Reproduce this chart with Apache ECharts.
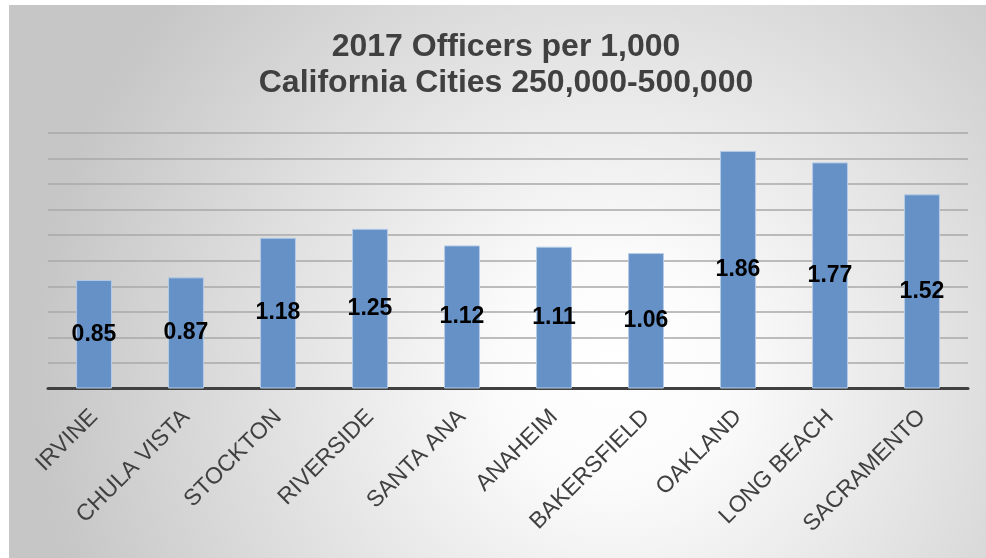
<!DOCTYPE html>
<html>
<head>
<meta charset="utf-8">
<script src="https://cdn.jsdelivr.net/npm/echarts@6/dist/echarts.min.js"></script>
<style>
  html, body { margin: 0; padding: 0; background: #ffffff; }
  #chart { position: absolute; left: 9px; top: 5px; width: 977px; height: 553px; }
</style>
</head>
<body>
<div id="chart"></div>
<script>
// Sworn officers per 1,000 residents, 2017
const cities = ['IRVINE', 'CHULA VISTA', 'STOCKTON', 'RIVERSIDE', 'SANTA ANA',
                'ANAHEIM', 'BAKERSFIELD', 'OAKLAND', 'LONG BEACH', 'SACRAMENTO'];
const officersPer1000 = [0.85, 0.87, 1.18, 1.25, 1.12, 1.11, 1.06, 1.86, 1.77, 1.52];
const titleLines = ['2017 Officers per 1,000', 'California Cities 250,000-500,000'];

const chart = echarts.init(document.getElementById('chart'));
chart.setOption({
  backgroundColor: {
    type: 'radial', x: 0.62, y: 0.66, r: 1.05,
    colorStops: [
      { offset: 0, color: '#ffffff' },
      { offset: 0.2, color: '#fbfbfb' },
      { offset: 1, color: '#c6c6c6' }
    ]
  },
  title: {
    text: titleLines.join('\n'),
    left: 492,
    textAlign: 'center',
    top: 19,
    textStyle: {
      fontFamily: 'Liberation Sans, Arial, sans-serif',
      fontSize: 32,
      fontWeight: 'bold',
      color: '#404040',
      lineHeight: 36
    }
  },
  grid: { left: 39, right: 18, top: 128, bottom: 169.5, containLabel: false },
  xAxis: {
    type: 'category',
    data: cities,
    axisLine: { show: true, lineStyle: { color: '#404040', width: 3 } },
    axisTick: { show: false },
    axisLabel: {
      rotate: 45,
      margin: 25,
      interval: 0,
      color: '#404040',
      fontFamily: 'Liberation Sans, Arial, sans-serif',
      fontSize: 23
    }
  },
  yAxis: {
    type: 'value',
    min: 0, max: 2, interval: 0.2,
    axisLabel: { show: false },
    axisLine: { show: false },
    axisTick: { show: false },
    splitLine: { lineStyle: { color: '#a8a8a8', width: 1.5 } }
  },
  series: [{
    type: 'bar',
    data: officersPer1000,
    barWidth: '39%',
    itemStyle: { color: '#6591c7', borderColor: '#b4cbe6', borderWidth: 1 },
    label: {
      show: true,
      position: 'inside',
      color: '#000000',
      fontFamily: 'Liberation Sans, Arial, sans-serif',
      fontWeight: 'bold',
      fontSize: 23,
      formatter: p => p.value.toFixed(2)
    }
  }]
});
</script>
</body>
</html>
